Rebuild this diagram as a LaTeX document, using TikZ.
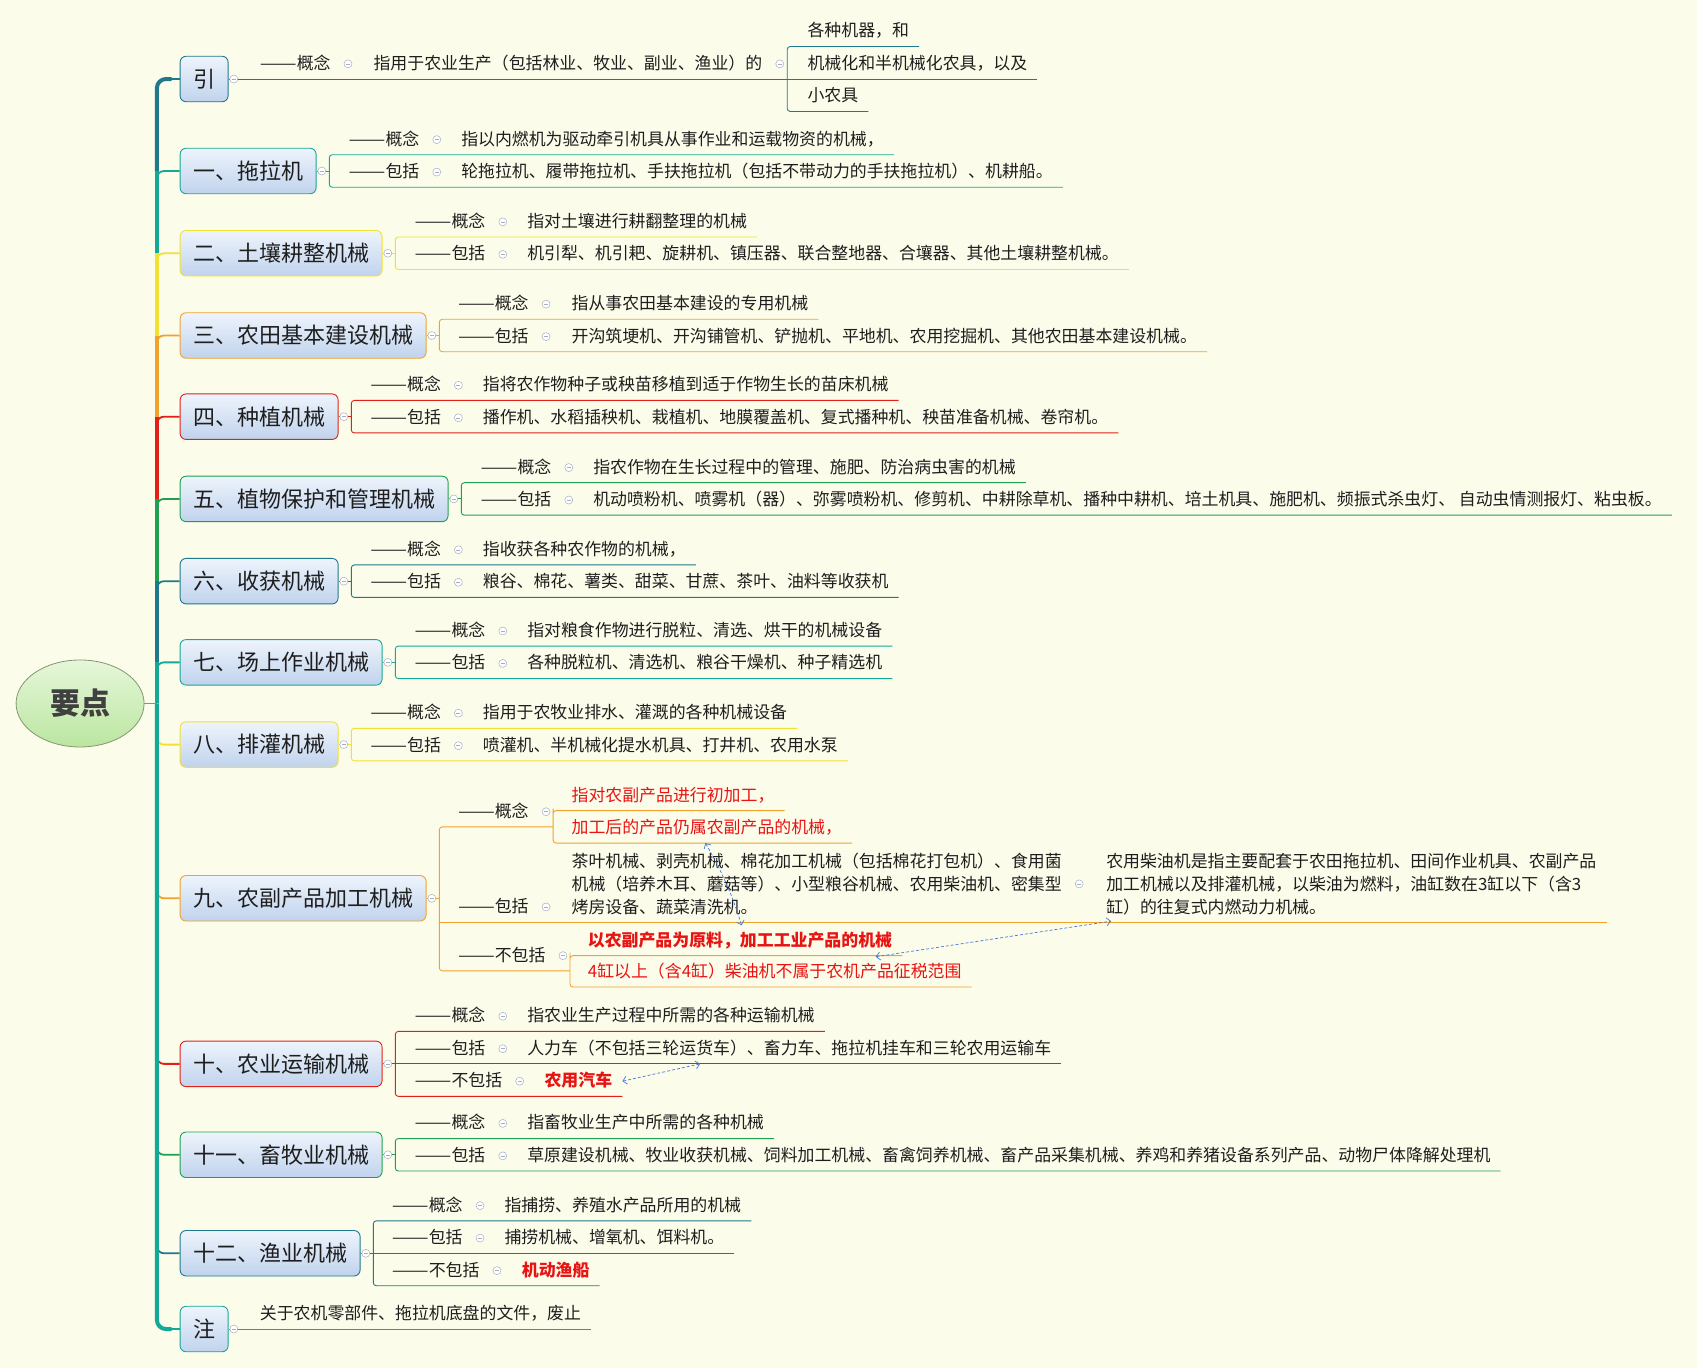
\documentclass[tikz,border=0pt]{standalone}
\usepackage{fontspec}
\usepackage{graphicx}
\newfontfamily\cjk{Noto Sans CJK SC}
\usetikzlibrary{positioning,shapes.geometric,arrows.meta}

\definecolor{paper}{RGB}{252,252,234}
\definecolor{cA}{RGB}{32,120,140}
\definecolor{cB}{RGB}{20,168,150}
\definecolor{cY}{RGB}{242,224,50}
\definecolor{cO}{RGB}{240,162,45}
\definecolor{cR}{RGB}{226,32,24}
\definecolor{cG}{RGB}{30,160,80}
\definecolor{ink}{RGB}{30,30,30}
\definecolor{redink}{RGB}{232,20,20}
\definecolor{foldgray}{RGB}{165,175,192}
\definecolor{relblue}{RGB}{70,120,210}
\definecolor{boxtop}{RGB}{238,244,252}
\definecolor{boxbot}{RGB}{192,211,237}
\definecolor{roottop}{RGB}{230,247,218}
\definecolor{rootbot}{RGB}{186,230,160}
\definecolor{rootedge}{RGB}{130,150,115}

\newcommand{\rowdash}{\scalebox{1.3}[1]{——}}

\pgfdeclarelayer{back}
\pgfsetlayers{back,main}

\begin{document}
\begin{tikzpicture}[x=1.0823pt, y=-1.0823pt, font=\cjk, text=ink,
  hub/.style={ellipse, draw=rootedge, line width=0.8pt, top color=roottop, bottom color=rootbot,
    minimum width=128pt, minimum height=87pt, inner sep=0pt, text=ink!85,
    font=\cjk\bfseries\fontsize{30}{34}\selectfont},
  branch/.style={rectangle, rounded corners=6pt, draw=#1, line width=0.9pt,
    top color=boxtop, bottom color=boxbot, anchor=west, minimum height=45.5pt,
    inner xsep=13pt, font=\cjk\fontsize{22}{26}\selectfont},
  leaf/.style={anchor=south west, inner xsep=0pt, inner ysep=6pt,
    text height=14.5pt, text depth=3.4pt, font=\cjk\fontsize{16.9}{22.7}\selectfont},
  para/.style={anchor=north west, inner sep=0pt, align=left,
    font=\cjk\fontsize{16.9}{22.7}\selectfont},
  hot/.style={leaf, text=redink},
  hotbold/.style={leaf, text=redink, font=\cjk\bfseries\fontsize{16.9}{22.7}\selectfont},
  fold/.style={circle, draw=foldgray, fill=white, line width=0.5pt, minimum size=8pt, inner sep=0pt,
    path picture={\draw[foldgray, line width=0.5pt]
      ([xshift=-2pt]path picture bounding box.center) -- ([xshift=2pt]path picture bounding box.center);}},
  spine/.style={line width=4pt},
  tick/.style={line width=1.8pt, rounded corners=7pt},
  uline/.style={draw=#1, line width=0.9pt},
  brk/.style={draw=#1, line width=0.9pt, rounded corners=3pt},
  rel/.style={draw=relblue, line width=0.7pt, densely dashed,
    {Straight Barb[length=4pt]}-{Straight Barb[length=4pt]}}]

\begin{pgfonlayer}{back}
  \fill[paper] (0,0) rectangle (1568,1264);
\end{pgfonlayer}

 \node [hub] (root) at (74,650) {要点};
 \coordinate (sp) at (145,650);

 \node [branch=cA] (b0)  at (166,73)   {引};
 \node [branch=cB] (b1)  at (166,158)  {一、拖拉机};
 \node [branch=cY] (b2)  at (166,234)  {二、土壤耕整机械};
 \node [branch=cO] (b3)  at (166,310)  {三、农田基本建设机械};
 \node [branch=cR] (b4)  at (166,385)  {四、种植机械};
 \node [branch=cG] (b5)  at (166,461)  {五、植物保护和管理机械};
 \node [branch=cA] (b6)  at (166,537)  {六、收获机械};
 \node [branch=cB] (b7)  at (166,612)  {七、场上作业机械};
 \node [branch=cY] (b8)  at (166,688)  {八、排灌机械};
 \node [branch=cO] (b9)  at (166,830)  {九、农副产品加工机械};
 \node [branch=cR] (b10) at (166,983)  {十、农业运输机械};
 \node [branch=cG] (b11) at (166,1067) {十一、畜牧业机械};
 \node [branch=cA] (b12) at (166,1158) {十二、渔业机械};
 \node [branch=cB] (b13) at (166,1228) {注};

 \node [fold, right=1pt of b0]  (f0)  {};
 \node [fold, right=1pt of b1]  (f1)  {};
 \node [fold, right=1pt of b2]  (f2)  {};
 \node [fold, right=1pt of b3]  (f3)  {};
 \node [fold, right=1pt of b4]  (f4)  {};
 \node [fold, right=1pt of b5]  (f5)  {};
 \node [fold, right=1pt of b6]  (f6)  {};
 \node [fold, right=1pt of b7]  (f7)  {};
 \node [fold, right=1pt of b8]  (f8)  {};
 \node [fold, right=1pt of b9]  (f9)  {};
 \node [fold, right=1pt of b10] (f10) {};
 \node [fold, right=1pt of b11] (f11) {};
 \node [fold, right=1pt of b12] (f12) {};
 \node [fold, right=1pt of b13] (f13) {};

 \node [leaf] (k0a)  at (240,73)  {\rowdash 概念};
 \node [leaf] (t0a)  at (345,73)  {指用于农业生产（包括林业、牧业、副业、渔业）的};
 \node [leaf] (g0a)  at (746,43)  {各种机器，和};
 \node [leaf] (g0b)  at (746,73)  {机械化和半机械化农具，以及};
 \node [leaf] (g0c)  at (746,103) {小农具};

 \node [leaf] (k1a)  at (322,143) {\rowdash 概念};
 \node [leaf] (t1a)  at (426,143) {指以内燃机为驱动牵引机具从事作业和运载物资的机械，};
 \node [leaf] (k1b)  at (322,173) {\rowdash 包括};
 \node [leaf] (t1b)  at (426,173) {轮拖拉机、履带拖拉机、手扶拖拉机（包括不带动力的手扶拖拉机）、机耕船。};

 \node [leaf] (k2a)  at (383,219) {\rowdash 概念};
 \node [leaf] (t2a)  at (487,219) {指对土壤进行耕翻整理的机械};
 \node [leaf] (k2b)  at (383,249) {\rowdash 包括};
 \node [leaf] (t2b)  at (487,249) {机引犁、机引耙、旋耕机、镇压器、联合整地器、合壤器、其他土壤耕整机械。};

 \node [leaf] (k3a)  at (423,295) {\rowdash 概念};
 \node [leaf] (t3a)  at (528,295) {指从事农田基本建设的专用机械};
 \node [leaf] (k3b)  at (423,325) {\rowdash 包括};
 \node [leaf] (t3b)  at (528,325) {开沟筑埂机、开沟铺管机、铲抛机、平地机、农用挖掘机、其他农田基本建设机械。};

 \node [leaf] (k4a)  at (342,370) {\rowdash 概念};
 \node [leaf] (t4a)  at (446,370) {指将农作物种子或秧苗移植到适于作物生长的苗床机械};
 \node [leaf] (k4b)  at (342,400) {\rowdash 包括};
 \node [leaf] (t4b)  at (446,400) {播作机、水稻插秧机、栽植机、地膜覆盖机、复式播种机、秧苗准备机械、卷帘机。};

 \node [leaf] (k5a)  at (444,446) {\rowdash 概念};
 \node [leaf] (t5a)  at (548,446) {指农作物在生长过程中的管理、施肥、防治病虫害的机械};
 \node [leaf] (k5b)  at (444,476) {\rowdash 包括};
 \node [leaf] (t5b)  at (548,476) {机动喷粉机、喷雾机（器）、弥雾喷粉机、修剪机、中耕除草机、播种中耕机、培土机具、施肥机、频振式杀虫灯、 自动虫情测报灯、粘虫板。};

 \node [leaf] (k6a)  at (342,522) {\rowdash 概念};
 \node [leaf] (t6a)  at (446,522) {指收获各种农作物的机械，};
 \node [leaf] (k6b)  at (342,552) {\rowdash 包括};
 \node [leaf] (t6b)  at (446,552) {粮谷、棉花、薯类、甜菜、甘蔗、茶叶、油料等收获机};

 \node [leaf] (k7a)  at (383,597) {\rowdash 概念};
 \node [leaf] (t7a)  at (487,597) {指对粮食作物进行脱粒、清选、烘干的机械设备};
 \node [leaf] (k7b)  at (383,627) {\rowdash 包括};
 \node [leaf] (t7b)  at (487,627) {各种脱粒机、清选机、粮谷干燥机、种子精选机};

 \node [leaf] (k8a)  at (342,673) {\rowdash 概念};
 \node [leaf] (t8a)  at (446,673) {指用于农牧业排水、灌溉的各种机械设备};
 \node [leaf] (k8b)  at (342,703) {\rowdash 包括};
 \node [leaf] (t8b)  at (446,703) {喷灌机、半机械化提水机具、打井机、农用水泵};

 \node [leaf]    (k9a)  at (423,764) {\rowdash 概念};
 \node [hot]     (t9a1) at (528,749) {指对农副产品进行初加工，};
 \node [hot]     (t9a2) at (528,779) {加工后的产品仍属农副产品的机械，};
 \node [leaf]    (k9b)  at (423,852) {\rowdash 包括};
 \node [para]    (t9b)  at (528,788) {\rule{0pt}{14.9pt}茶叶机械、剥壳机械、棉花加工机械（包括棉花打包机）、食用菌\\机械（培养木耳、蘑菇等）、小型粮谷机械、农用柴油机、密集型\\烤房设备、蔬菜清洗机。};
 \node [para]    (t9bx) at (1022,788) {\rule{0pt}{14.9pt}农用柴油机是指主要配套于农田拖拉机、田间作业机具、农副产品\\加工机械以及排灌机械，以柴油为燃料，油缸数在3缸以下（含3\\缸）的往复式内燃动力机械。};
 \node [leaf]    (k9c)  at (423,897) {\rowdash 不包括};
 \node [hotbold] (t9c1) at (543,883) {以农副产品为原料，加工工业产品的机械};
 \node [hot]     (t9c2) at (543,912) {4缸以上（含4缸）柴油机不属于农机产品征税范围};

 \node [leaf]    (k10a) at (383,953)  {\rowdash 概念};
 \node [leaf]    (t10a) at (487,953)  {指农业生产过程中所需的各种运输机械};
 \node [leaf]    (k10b) at (383,983)  {\rowdash 包括};
 \node [leaf]    (t10b) at (487,983)  {人力车（不包括三轮运货车）、畜力车、拖拉机挂车和三轮农用运输车};
 \node [leaf]    (k10c) at (383,1013) {\rowdash 不包括};
 \node [hotbold] (t10c) at (503,1013) {农用汽车};

 \node [leaf]    (k11a) at (383,1052) {\rowdash 概念};
 \node [leaf]    (t11a) at (487,1052) {指畜牧业生产中所需的各种机械};
 \node [leaf]    (k11b) at (383,1082) {\rowdash 包括};
 \node [leaf]    (t11b) at (487,1082) {草原建设机械、牧业收获机械、饲料加工机械、畜禽饲养机械、畜产品采集机械、养鸡和养猪设备系列产品、动物尸体降解处理机};

 \node [leaf]    (k12a) at (362,1128) {\rowdash 概念};
 \node [leaf]    (t12a) at (466,1128) {指捕捞、养殖水产品所用的机械};
 \node [leaf]    (k12b) at (362,1158) {\rowdash 包括};
 \node [leaf]    (t12b) at (466,1158) {捕捞机械、增氧机、饵料机。};
 \node [leaf]    (k12c) at (362,1188) {\rowdash 不包括};
 \node [hotbold] (t12c) at (482,1188) {机动渔船};

 \node [leaf]    (t13a) at (240,1228) {关于农机零部件、拖拉机底盘的文件，废止};

 \node [fold, right=13pt of k0a]  (f0a)  {};
 \node [fold, right=13pt of t0a]  (f0x)  {};
 \node [fold, right=13pt of k1a]  (f1a)  {};
 \node [fold, right=13pt of k1b]  (f1b)  {};
 \node [fold, right=13pt of k2a]  (f2a)  {};
 \node [fold, right=13pt of k2b]  (f2b)  {};
 \node [fold, right=13pt of k3a]  (f3a)  {};
 \node [fold, right=13pt of k3b]  (f3b)  {};
 \node [fold, right=13pt of k4a]  (f4a)  {};
 \node [fold, right=13pt of k4b]  (f4b)  {};
 \node [fold, right=13pt of k5a]  (f5a)  {};
 \node [fold, right=13pt of k5b]  (f5b)  {};
 \node [fold, right=13pt of k6a]  (f6a)  {};
 \node [fold, right=13pt of k6b]  (f6b)  {};
 \node [fold, right=13pt of k7a]  (f7a)  {};
 \node [fold, right=13pt of k7b]  (f7b)  {};
 \node [fold, right=13pt of k8a]  (f8a)  {};
 \node [fold, right=13pt of k8b]  (f8b)  {};
 \node [fold, right=13pt of k9a]  (f9a)  {};
 \node [fold, right=13pt of k9b]  (f9b)  {};
 \node [fold, right=13pt of t9b]  (f9x)  {};
 \node [fold, right=13pt of k9c]  (f9c)  {};
 \node [fold, right=13pt of k10a] (f10a) {};
 \node [fold, right=13pt of k10b] (f10b) {};
 \node [fold, right=13pt of k10c] (f10c) {};
 \node [fold, right=13pt of k11a] (f11a) {};
 \node [fold, right=13pt of k11b] (f11b) {};
 \node [fold, right=13pt of k12a] (f12a) {};
 \node [fold, right=13pt of k12b] (f12b) {};
 \node [fold, right=13pt of k12c] (f12c) {};

 \coordinate (j0x) at ([xshift=7.5pt]f0x.center);
 \coordinate (j1)  at ([xshift=7.5pt]f1.center);
 \coordinate (j2)  at ([xshift=7.5pt]f2.center);
 \coordinate (j3)  at ([xshift=7.5pt]f3.center);
 \coordinate (j4)  at ([xshift=7.5pt]f4.center);
 \coordinate (j5)  at ([xshift=7.5pt]f5.center);
 \coordinate (j6)  at ([xshift=7.5pt]f6.center);
 \coordinate (j7)  at ([xshift=7.5pt]f7.center);
 \coordinate (j8)  at ([xshift=7.5pt]f8.center);
 \coordinate (j9)  at ([xshift=7.5pt]f9.center);
 \coordinate (j9a) at ([xshift=7pt]f9a.center);
 \coordinate (j9c) at ([xshift=7pt]f9c.center);
 \coordinate (j10) at ([xshift=7.5pt]f10.center);
 \coordinate (j11) at ([xshift=7.5pt]f11.center);
 \coordinate (j12) at ([xshift=7.5pt]f12.center);

\begin{pgfonlayer}{back}
  \draw[tick, cB] (sp |- b1.west)  ++(0,12)  -- ++(0,-12) -- (b1.west);
  \draw[tick, cY] (sp |- b2.west)  ++(0,12)  -- ++(0,-12) -- (b2.west);
  \draw[tick, cO] (sp |- b3.west)  ++(0,12)  -- ++(0,-12) -- (b3.west);
  \draw[tick, cR] (sp |- b4.west)  ++(0,12)  -- ++(0,-12) -- (b4.west);
  \draw[tick, cG] (sp |- b5.west)  ++(0,12)  -- ++(0,-12) -- (b5.west);
  \draw[tick, cA] (sp |- b6.west)  ++(0,12)  -- ++(0,-12) -- (b6.west);
  \draw[tick, cB] (sp |- b7.west)  ++(0,12)  -- ++(0,-12) -- (b7.west);
  \draw[tick, cY] (sp |- b8.west)  ++(0,-12) -- ++(0,12)  -- (b8.west);
  \draw[tick, cO] (sp |- b9.west)  ++(0,-12) -- ++(0,12)  -- (b9.west);
  \draw[tick, cR] (sp |- b10.west) ++(0,-12) -- ++(0,12)  -- (b10.west);
  \draw[tick, cG] (sp |- b11.west) ++(0,-12) -- ++(0,12)  -- (b11.west);
  \draw[tick, cA] (sp |- b12.west) ++(0,-12) -- ++(0,12)  -- (b12.west);

  \draw[spine, cA, rounded corners=9pt] (sp |- b1.west) -- (sp |- b0.west) -- ([xshift=-8pt]b0.west);
  \draw[spine, cB] (sp |- b1.west) -- (sp |- b2.west);
  \draw[spine, cY] (sp |- b2.west) -- (sp |- b3.west);
  \draw[spine, cO] (sp |- b3.west) -- (sp |- b4.west);
  \draw[spine, cR] (sp |- b4.west) -- (sp |- b5.west);
  \draw[spine, cG] (sp |- b5.west) -- (sp |- b6.west);
  \draw[spine, cA] (sp |- b6.west) -- (sp |- b7.west);
  \draw[spine, cB] (sp |- b7.west) -- (sp);
  \draw[spine, cB, rounded corners=9pt] (sp) -- (sp |- b13.west) -- ([xshift=-8pt]b13.west);
  \draw[cA, line width=1.8pt] ([xshift=-9pt]b0.west) -- (b0.west);
  \draw[cB, line width=1.8pt] ([xshift=-9pt]b13.west) -- (b13.west);
  \draw[rootedge, line width=0.6pt] (root.east) -- (sp);

  \draw[uline=cA] (b0.east) -- ([xshift=10pt]g0b.south east);
  \draw[brk=cA] ([xshift=10pt]g0a.south east) -| (j0x) |- ([xshift=10pt]g0c.south east);

  \draw[uline=cB] (b1.east) -- (j1);
  \draw[brk=cB] ([xshift=10pt]t1a.south east) -| (j1) |- ([xshift=10pt]t1b.south east);
  \draw[uline=cY] (b2.east) -- (j2);
  \draw[brk=cY] ([xshift=10pt]t2a.south east) -| (j2) |- ([xshift=10pt]t2b.south east);
  \draw[uline=cO] (b3.east) -- (j3);
  \draw[brk=cO] ([xshift=10pt]t3a.south east) -| (j3) |- ([xshift=10pt]t3b.south east);
  \draw[uline=cR] (b4.east) -- (j4);
  \draw[brk=cR] ([xshift=10pt]t4a.south east) -| (j4) |- ([xshift=10pt]t4b.south east);
  \draw[uline=cG] (b5.east) -- (j5);
  \draw[brk=cG] ([xshift=10pt]t5a.south east) -| (j5) |- ([xshift=10pt]t5b.south east);
  \draw[uline=cA] (b6.east) -- (j6);
  \draw[brk=cA] ([xshift=10pt]t6a.south east) -| (j6) |- ([xshift=10pt]t6b.south east);
  \draw[uline=cB] (b7.east) -- (j7);
  \draw[brk=cB] ([xshift=10pt]t7a.south east) -| (j7) |- ([xshift=10pt]t7b.south east);
  \draw[uline=cY] (b8.east) -- (j8);
  \draw[brk=cY] ([xshift=10pt]t8a.south east) -| (j8) |- ([xshift=10pt]t8b.south east);

  \draw[uline=cO] (b9.east) -- (j9);
  \draw[brk=cO] (k9a.south -| j9a) -| (j9) |- (k9c.south -| j9c);
  \draw[uline=cO] (k9b.south -| j9) -- (k9b.south -| t9bx.east) -- ++(10,0);
  \draw[brk=cO] ([xshift=10pt]t9a1.south east) -| (j9a) |- ([xshift=10pt]t9a2.south east);
  \draw[brk=cO] ([xshift=10pt]t9c1.south east) -| (j9c) |- ([xshift=10pt]t9c2.south east);

  \draw[uline=cR] (b10.east) -- ([xshift=10pt]t10b.south east);
  \draw[brk=cR] ([xshift=10pt]t10a.south east) -| (j10) |- ([xshift=10pt]t10c.south east);
  \draw[uline=cG] (b11.east) -- (j11);
  \draw[brk=cG] ([xshift=10pt]t11a.south east) -| (j11) |- ([xshift=10pt]t11b.south east);
  \draw[uline=cA] (b12.east) -- ([xshift=10pt]t12b.south east);
  \draw[brk=cA] ([xshift=10pt]t12a.south east) -| (j12) |- ([xshift=10pt]t12c.south east);
  \draw[uline=cB] (b13.east) -- ([xshift=10pt]t13a.south east);
\end{pgfonlayer}

  \draw[rel] ([xshift=134pt]t9a2.south west) to[bend left=6] ([xshift=154pt]t9c1.north west);
  \draw[rel] ([xshift=288pt]t9c2.north west) -- ([xshift=5pt, yshift=-6pt]t9bx.south west);
  \draw[rel] ([xshift=10pt]t10c.east) -- ([xshift=173pt]t10b.south west);
\end{tikzpicture}
\end{document}
